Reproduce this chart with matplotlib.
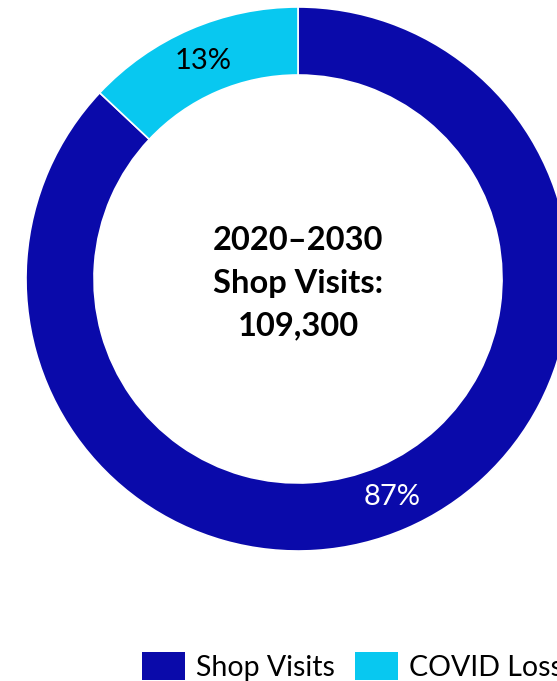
import matplotlib.pyplot as plt
from matplotlib.patches import Patch

labels = ["Shop Visits", "COVID Loss"]
shares = [87, 13]
colors = ["#0A0AAA", "#08C8F0"]
pct_colors = ["white", "black"]
center_text = "2020\u20132030\nShop Visits:\n109,300"

plt.rcParams['font.family'] = ['Lato', 'DejaVu Sans']

fig = plt.figure(figsize=(5.57, 6.81), dpi=100)
ax = fig.add_axes([26 / 557, 130 / 681, 544 / 557, 544 / 681])

wedges, texts, autotexts = ax.pie(
    shares, colors=colors, startangle=90, counterclock=False,
    radius=1.0, autopct="%d%%", pctdistance=0.875,
    wedgeprops=dict(width=0.25, edgecolor="white", linewidth=1.2),
    textprops=dict(fontsize=21))
for t, c in zip(autotexts, pct_colors):
    t.set_color(c)

ax.text(0, -0.015, center_text, ha="center", va="center",
        fontsize=23.5, fontweight="bold", linespacing=1.58)
ax.set_xlim(-1, 1)
ax.set_ylim(-1, 1)
ax.set_aspect("equal")
ax.axis("off")

handles = [Patch(facecolor=c, label=l) for c, l in zip(colors, labels)]
fig.legend(handles=handles, loc="upper left", ncol=2, frameon=False,
           bbox_to_anchor=(128 / 557, 1 - 638 / 681), borderpad=0,
           fontsize=20.5, handlelength=1.5, handleheight=1.1,
           handletextpad=0.4, columnspacing=0.7)

fig.savefig("out.png", dpi=100)
